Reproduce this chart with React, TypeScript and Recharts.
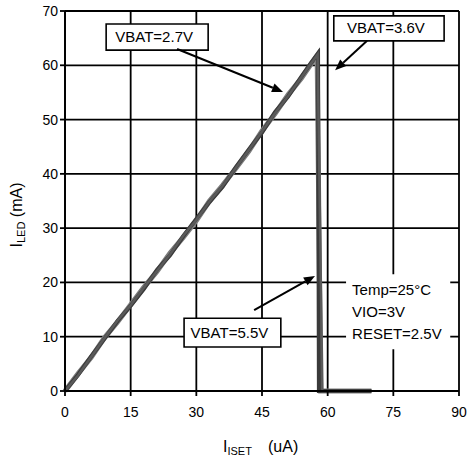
import React from "react";
import {
  LineChart,
  Line,
  XAxis,
  YAxis,
  CartesianGrid,
  ReferenceArea,
  ReferenceLine,
} from "recharts";

// I_ISET (uA) vs I_LED (mA), three supply voltages that nearly overlap
const iset27 = [0, 3, 6, 9, 12, 15, 18, 21, 24, 27, 30, 33, 36, 39, 42, 45, 48, 51, 54, 56, 57.8, 58.0, 70];
const iled27 = [0, 3.0, 6.4, 9.6, 12.9, 15.7, 18.8, 22.3, 25.0, 28.5, 31.7, 34.8, 37.6, 41.2, 44.5, 47.6, 51.4, 54.3, 57.9, 60.2, 62.2, 0, 0];

const iset36 = [0, 3, 6, 9, 12, 15, 18, 21, 24, 27, 30, 33, 36, 39, 42, 45, 48, 51, 54, 56, 57.6, 58.4, 70];
const iled36 = [0, 3.2, 6.2, 9.8, 12.7, 15.9, 19.1, 22.0, 25.4, 28.3, 31.4, 35.0, 37.9, 41.0, 44.2, 47.9, 51.1, 54.6, 57.6, 60.0, 61.8, 0, 0];

const iset55 = [0, 3, 6, 9, 12, 15, 18, 21, 24, 27, 30, 33, 36, 39, 42, 45, 48, 51, 54, 56, 57.7, 58.8, 70];
const iled55 = [0, 2.9, 6.3, 9.7, 13.0, 15.8, 19.0, 22.1, 25.2, 28.6, 31.5, 34.9, 37.8, 41.1, 44.4, 47.8, 51.2, 54.4, 57.8, 60.1, 62.0, 0, 0];

const xTicks = [0, 15, 30, 45, 60, 75, 90];
const yTicks = [0, 10, 20, 30, 40, 50, 60, 70];

const toRows = (xs: number[], ys: number[]) => xs.map((x, i) => ({ x, y: ys[i] }));

const FONT = "'Liberation Sans', Arial, sans-serif";

const Arrow = (props: any) => {
  const { x1, y1, x2, y2 } = props;
  const a = Math.atan2(y2 - y1, x2 - x1);
  const len = 11;
  const w = 4.5;
  const bx = x2 - len * Math.cos(a);
  const by = y2 - len * Math.sin(a);
  const px = -Math.sin(a) * w;
  const py = Math.cos(a) * w;
  return (
    <g>
      <line x1={x1} y1={y1} x2={bx} y2={by} stroke="#000" strokeWidth={2} />
      <polygon points={`${x2},${y2} ${bx + px},${by + py} ${bx - px},${by - py}`} fill="#000" />
    </g>
  );
};

const boxLabel = (text: string) => (props: any) => {
  const { viewBox } = props;
  return (
    <text x={viewBox.x + viewBox.width / 2 - 3} y={viewBox.y + viewBox.height / 2 + 5} textAnchor="middle" fontFamily={FONT} fontSize={15} fill="#000">
      {text}
    </text>
  );
};

const condLabel = (props: any) => {
  const { viewBox } = props;
  const x = viewBox.x + 6;
  const y = viewBox.y;
  return (
    <text fontFamily={FONT} fontSize={15} fill="#000">
      <tspan x={x} y={y + 21}>Temp=25°C</tspan>
      <tspan x={x} y={y + 43}>VIO=3V</tspan>
      <tspan x={x} y={y + 65}>RESET=2.5V</tspan>
    </text>
  );
};

export default function App() {
  return (
    <div style={{ position: "absolute", left: 0, top: 0, background: "#fff" }}>
      <LineChart width={468} height={462} margin={{ top: 11, right: 9, bottom: 41, left: 35 }}>
        <CartesianGrid stroke="#000" strokeWidth={1.8} />
        <XAxis
          type="number"
          dataKey="x"
          domain={[0, 90]}
          ticks={xTicks}
          allowDuplicatedCategory={false}
          height={30}
          tickSize={5}
          tickMargin={11}
          stroke="#000"
          strokeWidth={1.8}
          tick={{ fill: "#000", fontSize: 14, fontFamily: FONT }}
          label={{
            content: () => (
              <text y={452} fontFamily={FONT} fill="#000">
                <tspan x={223} fontSize={16}>I</tspan>
                <tspan fontSize={11} dy={3}>ISET</tspan>
                <tspan x={268} fontSize={16} dy={-3}>(uA)</tspan>
              </text>
            ),
          }}
        />
        <YAxis
          type="number"
          domain={[0, 70]}
          ticks={yTicks}
          width={30}
          tickSize={5}
          stroke="#000"
          strokeWidth={1.8}
          tick={{ fill: "#000", fontSize: 14, fontFamily: FONT }}
          label={{
            content: () => (
              <text x={22} y={215} transform="rotate(-90, 22, 215)" textAnchor="middle" fontFamily={FONT} fill="#000">
                <tspan fontSize={16}>I</tspan>
                <tspan fontSize={11} dy={3}>LED</tspan>
                <tspan fontSize={16} dy={-3}> (mA)</tspan>
              </text>
            ),
          }}
        />
        <Line data={toRows(iset36, iled36)} dataKey="y" stroke="#7a7a7a" strokeWidth={5} dot={false} isAnimationActive={false} />
        <Line data={toRows(iset27, iled27)} dataKey="y" stroke="#3a3a3a" strokeWidth={4} dot={false} isAnimationActive={false} />
        <Line data={toRows(iset55, iled55)} dataKey="y" stroke="#5a5a5a" strokeWidth={2.5} dot={false} isAnimationActive={false} />

        <ReferenceArea x1={64.2} x2={88.0} y1={7.7} y2={21.5} fill="#fff" fillOpacity={1} stroke="none" ifOverflow="visible" label={{ content: condLabel }} />
        <ReferenceArea x1={9.4} x2={32.7} y1={62.8} y2={67.6} fill="#fff" fillOpacity={1} stroke="#000" strokeWidth={1.6} ifOverflow="visible" label={{ content: boxLabel("VBAT=2.7V") }} />
        <ReferenceArea x1={61.4} x2={86.6} y1={64.5} y2={69.1} fill="#fff" fillOpacity={1} stroke="#000" strokeWidth={1.6} ifOverflow="visible" label={{ content: boxLabel("VBAT=3.6V") }} />
        <ReferenceArea x1={27.2} x2={49.3} y1={8.1} y2={13.4} fill="#fff" fillOpacity={1} stroke="#000" strokeWidth={1.6} ifOverflow="visible" label={{ content: boxLabel("VBAT=5.5V") }} />

        <ReferenceLine segment={[{ x: 25.6, y: 63.0 }, { x: 49.8, y: 55.1 }]} shape={Arrow} ifOverflow="visible" />
        <ReferenceLine segment={[{ x: 69.0, y: 64.5 }, { x: 61.7, y: 59.1 }]} shape={Arrow} ifOverflow="visible" />
        <ReferenceLine segment={[{ x: 43.2, y: 14.9 }, { x: 57.1, y: 21.2 }]} shape={Arrow} ifOverflow="visible" />
      </LineChart>
    </div>
  );
}
